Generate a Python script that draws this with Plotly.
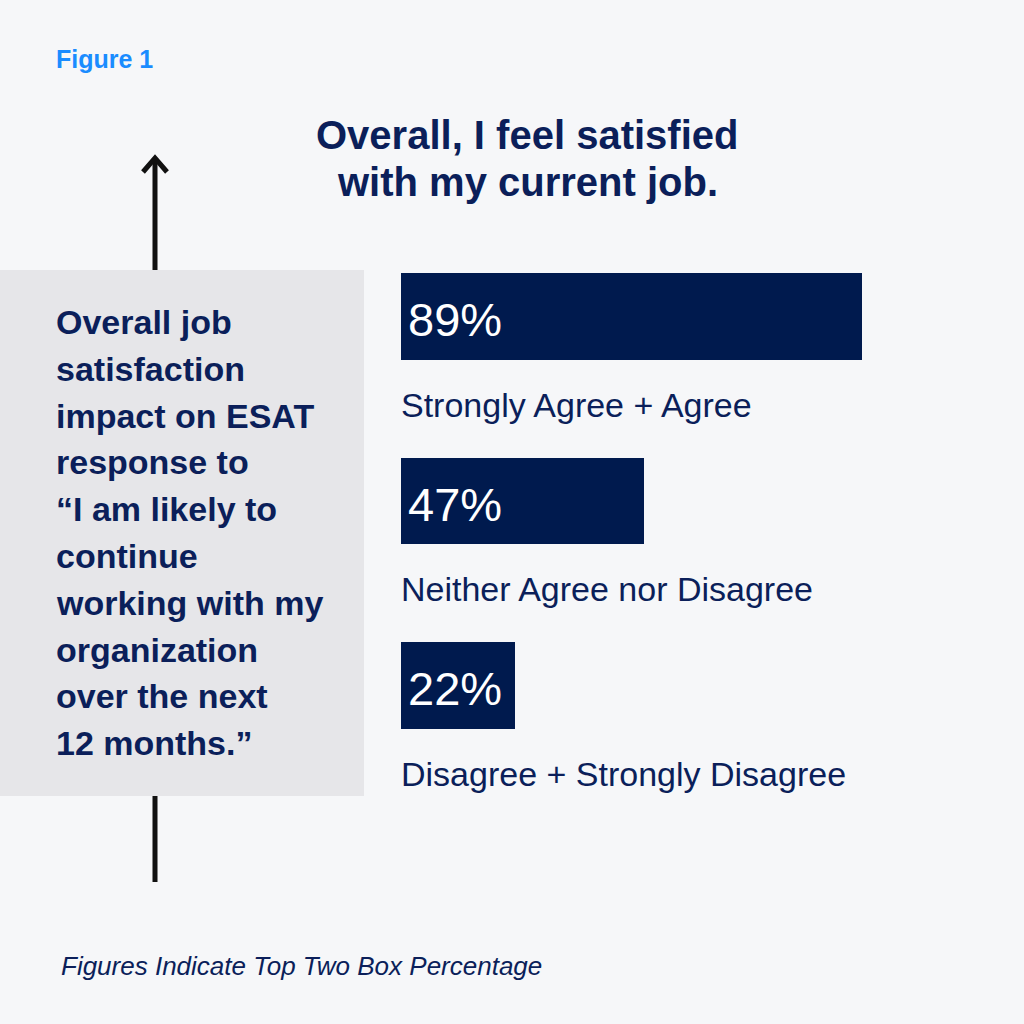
import plotly.graph_objects as go

# ---- data ----
categories = ["Strongly Agree + Agree", "Neither Agree nor Disagree", "Disagree + Strongly Disagree"]
values = [89, 47, 22]

title_lines = ["Overall, I feel satisfied", "with my current job."]
side_lines = ["Overall job", "satisfaction", "impact on ESAT", "response to",
              "\u201cI am likely to", "continue", "working with my", "organization",
              "over the next", "12 months.\u201d"]
figure_label = "Figure 1"
footnote = "Figures Indicate Top Two Box Percentage"

# ---- styling ----
W = H = 1024
BG = "#f6f7f9"
NAVY = "#001a4e"
TEXT_NAVY = "#0b1f5a"
BOX = "#e6e6e9"
BLUE = "#1a8cff"
FONT = "Liberation Sans, Arial, sans-serif"

def px(x):
    return x / W

def py(y):
    return 1 - y / H

# x scale: 0 at pixel 401, ~5.18 px per percent
x0_px, scale = 401, 5.18
x_range = [-x0_px / scale, (W - x0_px) / scale]
# y categorical: category 0 centre at 316.5 px, spacing 184.5 px
cat_px0, spacing = 316.5, 184.5
y_range = [(H - cat_px0) / spacing, -cat_px0 / spacing]

fig = go.Figure()
fig.add_trace(go.Bar(
    x=values, y=categories, orientation="h",
    marker=dict(color=NAVY, line=dict(width=0)),
    width=0.47, hoverinfo="skip",
))

annotations = []
for cat, v in zip(categories, values):
    annotations.append(dict(
        x=0, y=cat, xref="x", yref="y", xanchor="left", yanchor="middle",
        xshift=5, yshift=-3, text=f"{v}%", showarrow=False,
        font=dict(family=FONT, size=47, color="white")))
    annotations.append(dict(
        x=0, y=cat, xref="x", yref="y", xanchor="left", yanchor="middle",
        xshift=-2, yshift=-88, text=cat, showarrow=False,
        font=dict(family=FONT, size=34, color=TEXT_NAVY)))

for i, line in enumerate(title_lines):
    annotations.append(dict(
        x=px(527), y=py(135 + 47 * i), xref="paper", yref="paper",
        xanchor="center", yanchor="middle", text=f"<b>{line}</b>", showarrow=False,
        font=dict(family=FONT, size=40, color=TEXT_NAVY)))

for i, line in enumerate(side_lines):
    annotations.append(dict(
        x=px(54), y=py(322 + 46.8 * i), xref="paper", yref="paper",
        xanchor="left", yanchor="middle", text=f"<b>{line}</b>", showarrow=False,
        font=dict(family=FONT, size=34, color=TEXT_NAVY)))

annotations.append(dict(
    x=px(54), y=py(59), xref="paper", yref="paper", xanchor="left", yanchor="middle",
    text=f"<b>{figure_label}</b>", showarrow=False,
    font=dict(family=FONT, size=25, color=BLUE)))

annotations.append(dict(
    x=px(59), y=py(966), xref="paper", yref="paper", xanchor="left", yanchor="middle",
    text=f"<i>{footnote}</i>", showarrow=False,
    font=dict(family=FONT, size=26, color=TEXT_NAVY)))

shapes = [
    # arrow shaft (behind the box)
    dict(type="line", xref="paper", yref="paper", x0=px(155), x1=px(155),
         y0=py(159), y1=py(882), line=dict(color="#111111", width=5), layer="below"),
    # grey box
    dict(type="rect", xref="paper", yref="paper", x0=0, x1=px(364),
         y0=py(270), y1=py(796), fillcolor=BOX, line=dict(width=0), layer="below"),
    # arrow head chevron
    dict(type="path", xref="paper", yref="paper",
         path=f"M {px(143)},{py(172)} L {px(155)},{py(158)} L {px(167)},{py(172)}",
         line=dict(color="#111111", width=5), layer="below"),
]

fig.update_layout(
    width=W, height=H, margin=dict(l=0, r=0, t=0, b=0),
    paper_bgcolor=BG, plot_bgcolor="rgba(0,0,0,0)",
    showlegend=False, bargap=0,
    xaxis=dict(range=x_range, visible=False, fixedrange=True),
    yaxis=dict(range=y_range, visible=False, type="category",
               categoryorder="array", categoryarray=categories, fixedrange=True),
    annotations=annotations, shapes=shapes,
)

fig.write_html("out.html", config={"displayModeBar": False})
